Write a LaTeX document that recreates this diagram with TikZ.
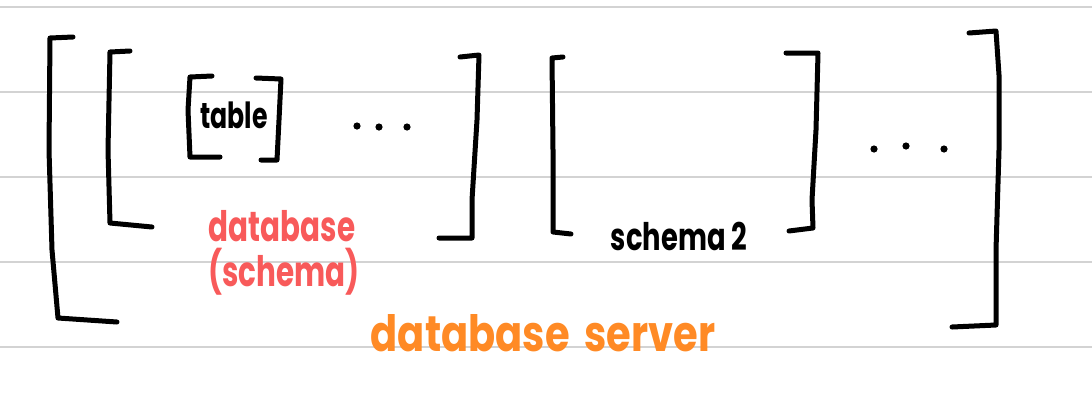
\documentclass[tikz,border=0pt]{standalone}
\usepackage{fontspec}
\setmainfont{Poppins}
\definecolor{rulegray}{HTML}{D3D3D3}
\definecolor{inkred}{HTML}{F85A5A}
\definecolor{inkorange}{HTML}{FF8A25}
\begin{document}
\begin{tikzpicture}[x=1pt,y=-1pt,
  ruling/.style={rulegray,line width=2.5pt},
  ink/.style={black,line width=5pt,line cap=round,line join=round},
  dotmark/.style={black,fill=black,radius=3.6pt},
  hand/.style={inner sep=0pt,font=\fontsize{#1}{#1}\selectfont\bfseries},
  ]
\useasboundingbox[fill=white] (0,0) rectangle (1092,400);
% ruled paper
\foreach \yy in {7,92,177,262,347}
  \draw[ruling] (0,\yy) -- (1092,\yy);
% outer (server) brackets
\draw[ink] (73,37) -- (50,38) -- (49,150) -- (52,250) -- (58,318) -- (117,322);
\draw[ink] (969,33) -- (996,31) -- (999,75) -- (999,150) -- (996,250) -- (996,325) -- (952,327);
% database 1 brackets
\draw[ink] (130,51) -- (110,52) -- (108,150) -- (110,223) -- (152,227);
\draw[ink] (460,57) -- (479,55) -- (477,120) -- (472,200) -- (472,238) -- (439,238);
% table brackets
\draw[ink] (212,76) -- (190,77) -- (188,110) -- (190,157) -- (220,157);
\draw[ink] (256,78) -- (281,79) -- (279,120) -- (277,160) -- (261,160);
% schema 2 brackets
\draw[ink] (563,57) -- (552,58) -- (553,150) -- (553,232) -- (571,234);
\draw[ink] (786,53) -- (818,53) -- (816,130) -- (812,200) -- (813,228) -- (789,231);
% dots
\fill[dotmark] (357,126) circle[];
\fill[dotmark] (379,127) circle[];
\fill[dotmark] (407,127) circle[];
\fill[dotmark] (874,149) circle[];
\fill[dotmark] (906,146) circle[];
\fill[dotmark] (944,149) circle[];
% labels
\node[hand=36] (table) at (234,115) {\scalebox{0.7}[1]{table}};
\node[hand=38] (schema2) at (679,236) {\scalebox{0.72}[1]{schema 2}};
\node[hand=42,text=inkred] (db) at (282,226) {\scalebox{0.7}[1]{database}};
\node[hand=42,text=inkred] (dbsch) at (284,272) {\scalebox{0.7}[1]{(schema)}};
\node[hand=50,text=inkorange] (server) at (543,333) {\scalebox{0.8}[1]{database\hspace{0.15em} server}};
\end{tikzpicture}
\end{document}
